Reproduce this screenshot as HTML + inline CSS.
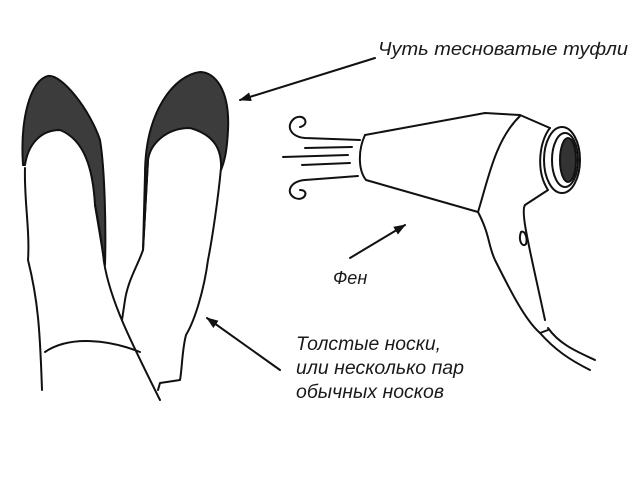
<!DOCTYPE html><html><head><style>body{margin:0;background:#fff}svg{display:block}text{font-family:"Liberation Sans",sans-serif;font-style:italic;fill:#1a1a1a}</style></head><body>
<svg width="640" height="480" viewBox="0 0 640 480" fill="none" stroke="#111" stroke-width="2" stroke-linecap="round" stroke-linejoin="round">
<defs><marker id="a" markerWidth="12" markerHeight="9" refX="11" refY="4.5" orient="auto" markerUnits="userSpaceOnUse"><path d="M0,0L12,4.5L0,9Z" fill="#111" stroke="none"/></marker></defs>
<path d="M23,165 C20,120 30,80 48,76 C62,74 90,110 100,140 C105,170 106,230 105,265 L95,205 C93,170 85,140 60,130 C40,130 28,145 25,165 Z" fill="#3c3c3c"/>
<path d="M25,168 C24,200 30,230 28,260 C38,300 40,330 42,390"/>
<path d="M95,205 C100,230 102,245 104,262 C110,300 130,340 160,400"/>
<path d="M45,352 C70,335 110,340 140,352"/>
<path d="M145,175 C145,110 175,75 200,72 C215,72 230,90 228,130 C227,150 225,160 221,170 C222,150 215,135 190,128 C165,128 150,145 148,160 L143,250 Z" fill="#3c3c3c"/>
<path d="M148,160 L143,250 C138,265 128,280 125,300 L122,320"/>
<path d="M221,168 C218,200 212,240 208,260 C204,290 195,320 186,335 C182,350 182,370 180,380 L160,383 L158,390"/>
<line x1="375" y1="58" x2="240" y2="100" marker-end="url(#a)"/>
<line x1="350" y1="258" x2="405" y2="225" marker-end="url(#a)"/>
<line x1="280" y1="370" x2="207" y2="318" marker-end="url(#a)"/>
<path d="M365,135 L485,113 L520,115 L550,128"/>
<path d="M365,135 C358,150 358,170 366,180 L478,212"/>
<path d="M520,116 C495,140 488,180 478,212"/>
<ellipse cx="562" cy="160" rx="18" ry="33"/>
<ellipse cx="565" cy="160" rx="13" ry="27"/>
<ellipse cx="568" cy="160" rx="8" ry="22" fill="#333"/>
<path d="M550,128 C540,140 535,170 548,190 L525,205 C520,212 530,250 545,320"/>
<path d="M478,212 C490,235 488,245 495,260 C510,290 525,320 540,333 L548,330"/>
<path d="M540,333 C555,350 570,360 590,370 M548,328 C560,345 578,352 595,360"/>
<path d="M521,232 C518,240 522,248 526,244 C528,236 524,230 521,232Z"/>
<path d="M360,140 L305,138 C290,137 285,125 295,118 C305,113 310,125 300,127"/>
<path d="M352,147 L305,148 M348,155 L283,157 M350,163 L302,165"/>
<path d="M358,176 L305,180 C290,181 285,193 295,198 C305,202 310,190 300,190"/>
<text x="378" y="55" font-size="18" textLength="250" lengthAdjust="spacingAndGlyphs" stroke="none">Чуть тесноватые туфли</text>
<text x="333" y="284" font-size="18" stroke="none">Фен</text>
<text x="296" y="350" font-size="19" textLength="145" lengthAdjust="spacingAndGlyphs" stroke="none">Толстые носки,</text>
<text x="296" y="374" font-size="19" textLength="168" lengthAdjust="spacingAndGlyphs" stroke="none">или несколько пар</text>
<text x="296" y="398" font-size="19" textLength="148" lengthAdjust="spacingAndGlyphs" stroke="none">обычных носков</text>
</svg></body></html>
